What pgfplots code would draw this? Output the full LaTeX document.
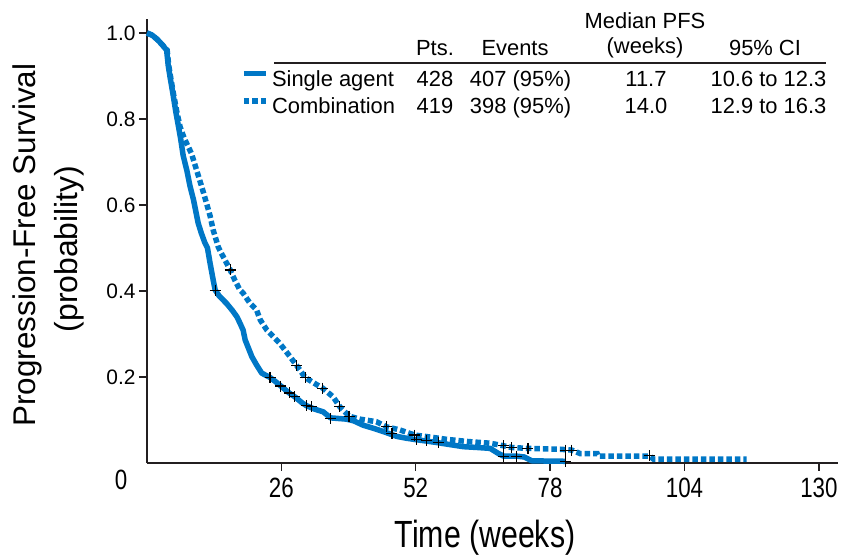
\documentclass[border=0pt]{standalone}
\usepackage{fontspec}
\setmainfont{Liberation Sans}
\newfontfamily\condfont[FakeStretch=0.8]{Liberation Sans}
\usepackage{pgfplots}
\pgfplotsset{compat=1.18}
\definecolor{kmblue}{HTML}{0077C6}
\definecolor{axisgray}{HTML}{231F20}

\begin{document}
\begin{tikzpicture}
\path[use as bounding box] (-147bp,-94bp) rectangle (694bp,463bp);
\begin{axis}[
  at={(0bp,0bp)}, anchor=origin,
  scale only axis, width=691bp, height=444bp,
  xmin=0, xmax=133.7, ymin=0, ymax=1.0326,
  clip=false,
  axis x line*=bottom, axis y line*=left,
  axis line style={line width=1.6bp, color=axisgray},
  xtick={26,52,78,104,130}, ytick={0.2,0.4,0.6,0.8,1.0},
  extra x ticks={0},
  extra x tick style={major tick length=0pt, tick label style={xshift=-26bp}},
  tick align=outside, major tick length=8bp,
  tick style={line width=1.3bp, color=axisgray},
  /pgf/number format/assume math mode=true,
  x tick label style={font=\condfont\fontsize{28}{28}\selectfont, yshift=-4bp},
  y tick label style={font=\fontsize{21}{21}\selectfont,
    /pgf/number format/fixed, /pgf/number format/precision=1,
    /pgf/number format/fixed zerofill},
  legend image code/.code={\draw[#1] (0bp,7bp) -- (22bp,7bp);},
  legend style={at={(axis cs:18.2,0.912)}, anchor=north west,
    draw=none, fill=none, inner sep=0pt, outer sep=0pt,
    font=\fontsize{22}{24}\selectfont, row sep=8bp,
    nodes={inner sep=0pt, text height=15bp, text depth=4bp},
    /tikz/every odd column/.append style={column sep=3.5bp}},
  legend cell align=left,
]
\addplot[kmblue, line width=5.5bp, line join=round] coordinates {
(0,1.000) (1.0,0.995) (2.0,0.985) (3.0,0.972) (3.8,0.960) (4.1,0.925)
(4.5,0.895) (5.0,0.860) (5.6,0.815) (6.1,0.782) (6.5,0.755) (7.0,0.715)
(7.7,0.681) (8.3,0.645) (9.0,0.612) (9.9,0.558) (10.5,0.535) (11.2,0.512)
(11.7,0.500) (12.2,0.465) (12.8,0.426) (13.2,0.402) (14.0,0.388) (15.4,0.371)
(16.5,0.355) (17.4,0.340) (18.0,0.325) (18.6,0.309) (19.0,0.286) (20.3,0.247)
(21.2,0.228) (22.2,0.209) (23.8,0.199) (25.0,0.188) (25.9,0.179) (27.5,0.163)
(28.6,0.154) (30.0,0.140) (30.9,0.133) (32.5,0.125) (34.1,0.119) (35.5,0.105)
(38.6,0.102) (40.0,0.098) (41.8,0.088) (44.0,0.080) (46.0,0.072) (48.3,0.062)
(50.0,0.058) (52.2,0.054) (54.1,0.051) (56.4,0.047) (58.5,0.043) (61.2,0.038)
(64.0,0.036) (66.4,0.034) (68.0,0.022) (69.0,0.016) (71.5,0.016) (73.0,0.014)
(74.5,0.005) (81.0,0.004)
};
\addlegendentry{\makebox[552bp][l]{\makebox[0pt][l]{Single agent}\hspace*{163bp}\makebox[0pt]{428}\hspace*{85.5bp}\makebox[0pt]{407 (95\%)}\hspace*{125.5bp}\makebox[0pt]{11.7}\hspace*{122.5bp}\makebox[0pt]{10.6 to 12.3}}}
\addplot[kmblue, line width=5.5bp, dash pattern=on 5.5bp off 3bp] coordinates {
(0,1.000) (1.0,0.995) (2.0,0.985) (3.0,0.972) (3.9,0.960) (4.2,0.925)
(4.6,0.895) (5.1,0.860) (5.8,0.815) (6.4,0.782) (7.2,0.755) (8.0,0.735)
(8.6,0.720) (9.6,0.681) (10.6,0.642) (11.5,0.605) (12.2,0.575) (12.8,0.542)
(13.8,0.502) (14.6,0.483) (15.4,0.465) (16.1,0.449) (17.0,0.425) (18.0,0.402)
(18.6,0.395) (19.9,0.372) (21.2,0.356) (21.9,0.333) (23.2,0.309) (24.5,0.293)
(25.7,0.278) (27.7,0.247) (29.0,0.226) (30.6,0.199) (32.3,0.186) (34.0,0.174)
(36.0,0.154) (37.3,0.131) (39.1,0.109) (41.2,0.102) (44.4,0.096) (46.4,0.084)
(48.9,0.077) (51.8,0.065) (55.0,0.060) (58.0,0.055) (62.0,0.050) (66.4,0.046)
(69.0,0.040) (70.6,0.036) (73.7,0.034) (79.9,0.032) (82.2,0.030) (83.8,0.022)
(87.1,0.022) (87.3,0.016) (96.7,0.016) (97.3,0.016) (98.0,0.009) (116.0,0.009)
};
\addlegendentry{\makebox[552bp][l]{\makebox[0pt][l]{Combination}\hspace*{163bp}\makebox[0pt]{419}\hspace*{85.5bp}\makebox[0pt]{398 (95\%)}\hspace*{125.5bp}\makebox[0pt]{14.0}\hspace*{122.5bp}\makebox[0pt]{12.9 to 16.3}}}
% censor marks, single agent
\addplot[forget plot, only marks, mark=+, mark size=5.5bp, black, line width=1.2bp] coordinates {
(13.2,0.402) (23.8,0.199) (25.9,0.179) (27.5,0.163) (28.6,0.154) (30.9,0.133)
(31.8,0.131) (35.5,0.104) (47.4,0.069) (52.2,0.055) (54.1,0.052) (56.4,0.047)
(69.0,0.016) (71.5,0.016) (81.0,0.004)
};
% censor marks, combination
\addplot[forget plot, only marks, mark=+, mark size=5.5bp, black, line width=1.2bp] coordinates {
(16.1,0.449) (29.0,0.226) (30.6,0.199) (34.0,0.174) (37.3,0.131) (39.1,0.109)
(46.4,0.084) (51.8,0.065) (69.0,0.040) (70.6,0.036) (73.7,0.034) (80.9,0.030)
(82.2,0.030) (97.3,0.017)
};
\end{axis}
% table header
\begin{scope}[every node/.style={font=\fontsize{22}{24}\selectfont, inner sep=0pt}]
\node at (498bp,442bp) {Median PFS};
\node at (288bp,415bp) {Pts.};
\node at (368bp,415bp) {Events};
\node at (498bp,415bp) {(weeks)};
\node at (618bp,415bp) {95\% CI};
\end{scope}
\draw[line width=1.2bp, axisgray] (127bp,400bp) -- (679bp,400bp);
% axis labels
\node[font=\condfont\fontsize{38}{38}\selectfont] at (338bp,-75bp) {Time (weeks)};
\node[rotate=90, font=\fontsize{31.5}{31.5}\selectfont] at (-120bp,218bp) {Progression-Free Survival};
\node[rotate=90, font=\fontsize{32}{32}\selectfont] at (-78bp,214bp) {(probability)};
\end{tikzpicture}
\end{document}
